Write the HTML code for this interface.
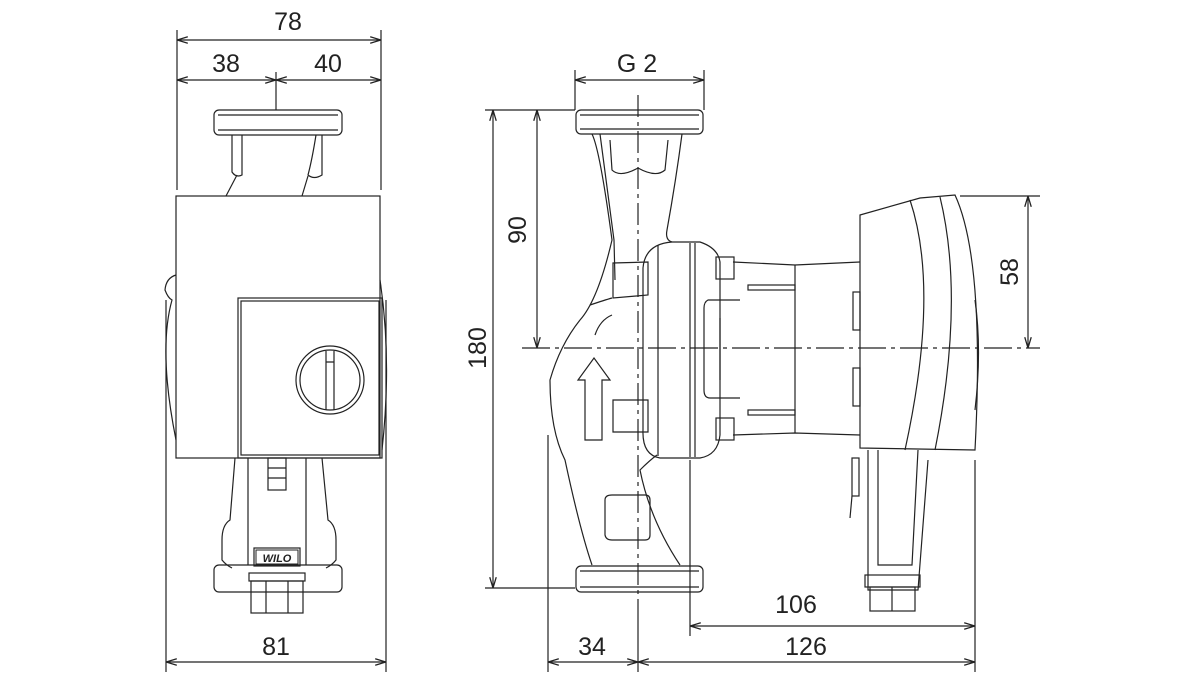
<!DOCTYPE html>
<html><head><meta charset="utf-8"><style>
html,body{margin:0;padding:0;background:#fff;}
svg{display:block;}
text{font-family:"Liberation Sans","DejaVu Sans",sans-serif;font-size:25px;fill:#222;}
</style></head><body>
<svg width="1200" height="675" viewBox="0 0 1200 675" xmlns="http://www.w3.org/2000/svg">
<defs>
<marker id="a" viewBox="0 0 10 10" refX="10" refY="5" markerWidth="9" markerHeight="9" orient="auto-start-reverse"><path d="M0,2 L10,5 L0,8" fill="none" stroke="#222" stroke-width="1.2"/></marker>
</defs>
<g stroke="#222" stroke-width="1.2" fill="none">
<!-- LEFT VIEW dimensions -->
<line x1="177" y1="30" x2="177" y2="190"/>
<line x1="381" y1="30" x2="381" y2="190"/>
<line x1="177" y1="40" x2="381" y2="40" marker-start="url(#a)" marker-end="url(#a)"/>
<line x1="177" y1="80" x2="276" y2="80" marker-start="url(#a)" marker-end="url(#a)"/>
<line x1="276" y1="80" x2="381" y2="80" marker-start="url(#a)" marker-end="url(#a)"/>
<line x1="276" y1="72" x2="276" y2="110"/>
<line x1="166" y1="300" x2="166" y2="672"/>
<line x1="386" y1="300" x2="386" y2="672"/>
<line x1="166" y1="662" x2="386" y2="662" marker-start="url(#a)" marker-end="url(#a)"/>

<!-- left view body -->
<rect x="214" y="110" width="128" height="25" rx="5"/>
<line x1="218" y1="115" x2="338" y2="115"/>
<line x1="218" y1="130" x2="338" y2="130"/>
<path d="M232,135 L232,172 Q236,178 242,175 L242,135"/>
<path d="M316,135 Q312,160 308,175 Q314,180 322,175 L322,135"/>
<path d="M237,175 L226,196"/>
<path d="M308,176 L302,196"/>
<rect x="176" y="196" width="204" height="262"/>
<path d="M176,275 Q166,278 165,290 Q168,298 172,300 Q158,350 176,440"/>
<path d="M380,280 Q392,360 382,450"/>
<rect x="238" y="298" width="144" height="160"/>
<rect x="241" y="301" width="138" height="154"/>
<circle cx="330" cy="380" r="34"/>
<circle cx="330" cy="380" r="30"/>
<path d="M326,351 L326,410 M334,351 L334,410 M326,362 L334,362"/>
<path d="M235,458 L230,520 Q222,525 222,540 L222,560 Q226,565 232,568"/>
<path d="M322,458 L328,520 Q336,525 336,540 L336,560 Q332,565 326,568"/>
<path d="M248,458 L248,565 M306,458 L306,565"/>
<rect x="268" y="458" width="18" height="32"/>
<line x1="268" y1="468" x2="286" y2="468"/><line x1="268" y1="478" x2="286" y2="478"/>
<rect x="254" y="548" width="46" height="18"/>
<rect x="214" y="565" width="128" height="27" rx="5"/>
<rect x="249" y="573" width="56" height="8"/>
<rect x="251" y="581" width="52" height="32"/>
<line x1="266" y1="581" x2="266" y2="613"/><line x1="288" y1="581" x2="288" y2="613"/>

<!-- RIGHT VIEW dimensions -->
<line x1="575" y1="70" x2="575" y2="110"/>
<line x1="704" y1="70" x2="704" y2="110"/>
<line x1="575" y1="80" x2="704" y2="80" marker-start="url(#a)" marker-end="url(#a)"/>
<line x1="485" y1="110" x2="575" y2="110"/>
<line x1="485" y1="588" x2="575" y2="588"/>
<line x1="493" y1="110" x2="493" y2="588" marker-start="url(#a)" marker-end="url(#a)"/>
<line x1="537" y1="110" x2="537" y2="348" marker-start="url(#a)" marker-end="url(#a)"/>
<line x1="960" y1="196" x2="1040" y2="196"/>
<line x1="1028" y1="196" x2="1028" y2="348" marker-start="url(#a)" marker-end="url(#a)"/>
<line x1="522" y1="348" x2="1040" y2="348" stroke-dasharray="28,5,4,5"/>
<line x1="638" y1="95" x2="638" y2="600" stroke-dasharray="22,5,4,5"/>
<line x1="548" y1="435" x2="548" y2="672"/>
<line x1="638" y1="600" x2="638" y2="672"/>
<line x1="690" y1="460" x2="690" y2="636"/>
<line x1="975" y1="460" x2="975" y2="672"/>
<line x1="690" y1="626" x2="975" y2="626" marker-start="url(#a)" marker-end="url(#a)"/>
<line x1="548" y1="662" x2="638" y2="662" marker-start="url(#a)" marker-end="url(#a)"/>
<line x1="638" y1="662" x2="975" y2="662" marker-start="url(#a)" marker-end="url(#a)"/>

<!-- pump housing -->
<rect x="576" y="110" width="127" height="24" rx="5"/>
<line x1="580" y1="115" x2="699" y2="115"/><line x1="580" y1="129" x2="699" y2="129"/>
<rect x="576" y="566" width="127" height="26" rx="5"/>
<line x1="580" y1="571" x2="699" y2="571"/><line x1="580" y1="587" x2="699" y2="587"/>
<path d="M592,134 Q600,150 612,240 Q598,300 580,320 Q560,345 550,380 Q550,430 565,460 Q580,530 592,565"/>
<path d="M600,134 Q606,180 614,240 L615,280"/>
<path d="M682,134 Q676,180 667,230 Q665,240 672,242"/>
<path d="M610,140 L612,170 Q620,178 638,168 Q656,178 665,170 L668,140"/>
<path d="M657,455 Q650,460 640,470 Q650,520 680,565"/>
<path d="M605,500 L605,535 Q606,540 612,540 L645,540 Q650,540 650,535 L650,500 Q650,495 645,495 L612,495 Q605,495 605,500 Z"/>
<path d="M585,440 L585,380 L578,380 L594,358 L610,380 L602,380 L602,440 Z"/>
<path d="M613,263 L613,298 L648,295 L648,262 Z"/>
<path d="M613,400 L613,432 L648,432 L648,400 Z"/>
<path d="M590,305 Q605,300 612,298 M595,335 Q600,320 612,315"/>
<!-- flange ring -->
<path d="M672,242 L700,242 Q718,248 720,262 L720,435 Q718,455 700,458 L660,458 Q642,455 643,430 L643,268 Q645,244 672,242 Z"/>
<line x1="658" y1="245" x2="658" y2="456"/>
<line x1="690" y1="243" x2="690" y2="457"/>
<line x1="695" y1="243" x2="695" y2="457"/>
<rect x="716" y="257" width="18" height="22"/>
<rect x="716" y="418" width="18" height="22"/>
<path d="M740,300 L708,300 Q704,302 704,308 L704,390 Q704,398 710,398 L740,398"/>
<line x1="720" y1="318" x2="720" y2="380"/>
<!-- motor can -->
<path d="M733,262 L795,265 L860,262 M733,435 L795,433 L860,435"/>
<line x1="795" y1="265" x2="795" y2="433"/>
<rect x="748" y="285" width="47" height="5"/>
<rect x="748" y="410" width="47" height="5"/>
<!-- head -->
<path d="M860,215 L920,198 L955,195 Q985,260 975,450 L860,448 Z"/>
<path d="M910,200 Q940,290 905,450"/>
<path d="M940,197 Q965,300 935,450"/>
<rect x="853" y="292" width="7" height="38"/>
<rect x="853" y="368" width="7" height="38"/>
<path d="M975,300 Q982,350 975,410"/>
<!-- connector -->
<path d="M868,450 L868,590 L918,590 L928,460"/>
<path d="M878,450 L878,565 L912,565 L918,450"/>
<rect x="852" y="458" width="7" height="38"/>
<line x1="852" y1="496" x2="850" y2="518"/>
<rect x="865" y="575" width="55" height="12"/>
<rect x="870" y="587" width="45" height="24"/>
<line x1="892" y1="587" x2="892" y2="611"/>
</g>
<rect x="256" y="550" width="42" height="14" fill="#fff" stroke="#222"/>
<text x="277" y="562" text-anchor="middle" style="font-size:11px;font-weight:bold;font-style:italic">WILO</text>
<text x="288" y="30" text-anchor="middle">78</text>
<text x="226" y="72" text-anchor="middle">38</text>
<text x="328" y="72" text-anchor="middle">40</text>
<text x="276" y="655" text-anchor="middle">81</text>
<text x="637" y="72" text-anchor="middle">G 2</text>
<text x="796" y="613" text-anchor="middle">106</text>
<text x="806" y="655" text-anchor="middle">126</text>
<text x="592" y="655" text-anchor="middle">34</text>
<text transform="translate(486,348) rotate(-90)" text-anchor="middle">180</text>
<text transform="translate(526,230) rotate(-90)" text-anchor="middle">90</text>
<text transform="translate(1018,272) rotate(-90)" text-anchor="middle">58</text>
</svg>
</body></html>
